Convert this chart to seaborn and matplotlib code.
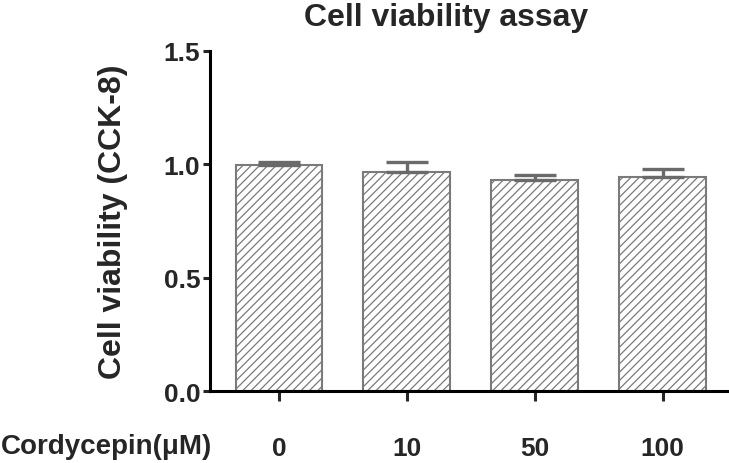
import matplotlib
matplotlib.use("Agg")
import matplotlib.pyplot as plt
import seaborn as sns
import pandas as pd
import numpy as np

# values
doses = ["0", "10", "50", "100"]
viability = [0.997, 0.967, 0.929, 0.946]
sem = [0.015, 0.042, 0.024, 0.035]

sns.set_style("ticks")
plt.rcParams["font.family"] = ["Liberation Sans", "DejaVu Sans"]
plt.rcParams["font.weight"] = "bold"
plt.rcParams["hatch.linewidth"] = 0.9

df = pd.DataFrame({"dose": doses, "viability": viability})

fig = plt.figure(figsize=(7.29, 4.64), dpi=100)
ax = fig.add_axes([0.288, 0.155, 0.712, 0.733])

sns.barplot(data=df, x="dose", y="viability", order=doses, color="white",
            edgecolor="#7a7a7a", linewidth=1.5, width=0.68, hatch="////",
            errorbar=None, ax=ax)

# one-sided error bars (upper only)
ax.errorbar(np.arange(len(doses)), viability, yerr=[np.zeros(len(sem)), sem],
            fmt="none", ecolor="#6a6a6a", elinewidth=2.4, capsize=15,
            capthick=2.4, zorder=1)

ax.set_xlim(-0.54, 3.52)
ax.set_ylim(0, 1.5)
ax.set_yticks([0.0, 0.5, 1.0, 1.5])
ax.set_yticklabels(["0.0", "0.5", "1.0", "1.5"])

sns.despine(ax=ax)
for s in ["left", "bottom"]:
    ax.spines[s].set_linewidth(2.2)
    ax.spines[s].set_color("black")

ax.tick_params(axis="y", length=5, width=2.2, labelsize=19, pad=2)
ax.tick_params(axis="x", length=7, width=2.2, labelsize=19, pad=25)

ax.set_ylabel("Cell viability (CCK-8)", fontsize=23, fontweight="bold")
ax.yaxis.set_label_coords(-0.158, 0.5)
ax.set_xlabel("Cordycepin(\u03bcM)", fontsize=20, fontweight="bold",
              ha="right", va="center")
ax.xaxis.set_label_coords(0.004, -0.162)
ax.set_title("Cell viability assay", fontsize=23, fontweight="bold",
             x=0.455, pad=19)

fig.savefig("out.png", dpi=100)
plt.close(fig)
